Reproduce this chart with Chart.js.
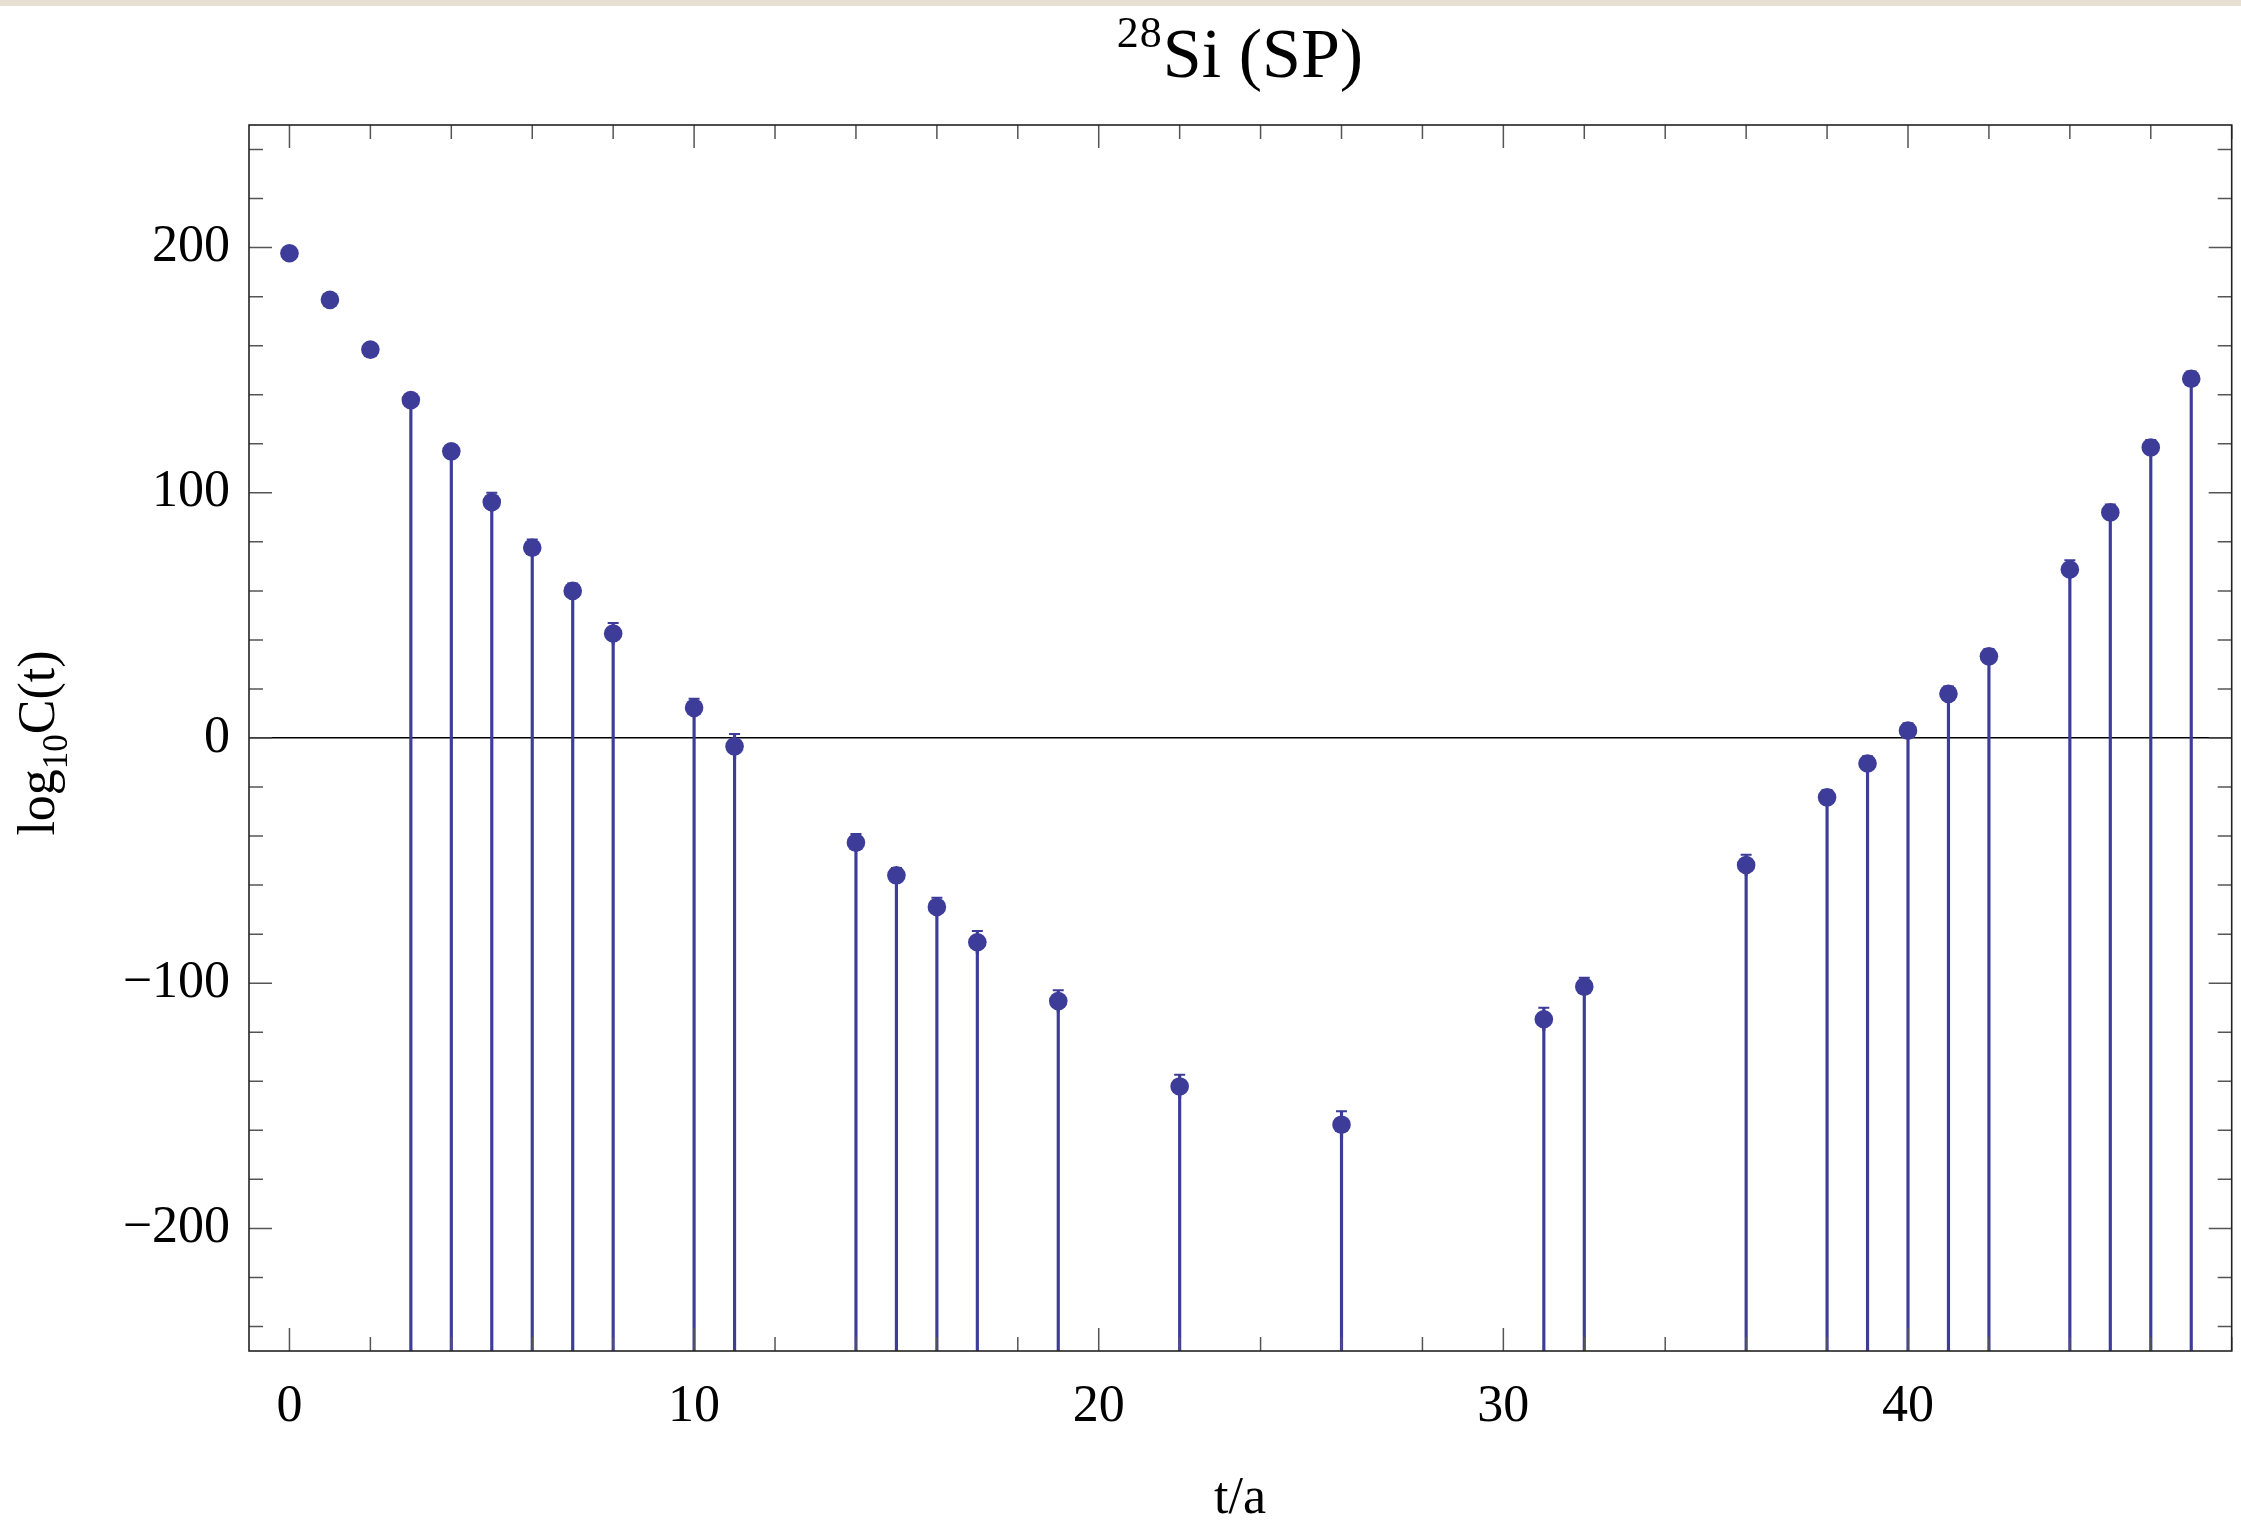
<!DOCTYPE html>
<html>
<head>
<meta charset="utf-8">
<title>28Si (SP)</title>
<script src="https://cdn.jsdelivr.net/npm/chart.js@4.4.1/dist/chart.umd.min.js"></script>
<style>
  html, body { margin: 0; padding: 0; background: #fff; overflow: hidden; }
  #wrap { position: relative; width: 2241px; height: 1525px; font-family: 'Liberation Serif', 'Times New Roman', serif; color: #000; }
  #topband { position: absolute; left: 0; top: 0; width: 100%; height: 6px; background: #e6dfd2; }
  #chart { position: absolute; left: 0; top: 0; }
  .lbl { position: absolute; white-space: nowrap; text-align: center; width: 400px; }
  #title { left: 1040px; top: 19px; font-size: 70px; line-height: 70px; }
  #title .sup { font-size: 44px; position: relative; top: -30px; letter-spacing: 1px; }
  #xlabel { left: 1040px; top: 1470px; font-size: 52px; line-height: 52px; }
  #ylabel { left: -160px; top: 714px; font-size: 52px; line-height: 52px; transform: rotate(-90deg); }
  #ylabel .sub { font-size: 35px; position: relative; top: 13px; }
</style>
</head>
<body>
<div id="wrap">
  <canvas id="chart" width="2241" height="1525"></canvas>
  <div id="topband"></div>
  <div class="lbl" id="title"><span class="sup">28</span>Si (SP)</div>
  <div class="lbl" id="ylabel">log<span class="sub">10</span>C(t)</div>
  <div class="lbl" id="xlabel">t/a</div>
</div>
<script>
// t/a values and log10 C(t), with error bar half-widths
const T = [0, 1, 2, 3, 4, 5, 6, 7, 8, 10, 11, 14, 15, 16, 17, 19, 22, 26, 31, 32, 36, 38, 39, 40, 41, 42, 44, 45, 46, 47];
const LOG_C = [197.7, 178.7, 158.4, 137.8, 116.9, 96.2, 77.6, 60.0, 42.6, 12.3, -3.4, -42.7, -56.0, -68.9, -83.3, -107.3, -142.1, -157.7, -114.7, -101.4, -51.8, -24.2, -10.4, 3.0, 18.0, 33.3, 68.7, 92.0, 118.5, 146.5];
const ERR = [2.0, 2.0, 2.0, 2.5, 2.5, 3.8, 3.4, 3.0, 4.3, 3.7, 5.0, 3.5, 3.0, 3.8, 4.6, 4.4, 4.8, 5.5, 4.7, 3.6, 4.2, 3.0, 3.0, 3.0, 3.0, 3.0, 3.8, 3.2, 3.0, 3.0];

// drop lines start from this t/a on
const STEM_START = 3;

const X_MIN = -1, X_MAX = 48;
const Y_MIN = -250, Y_MAX = 250;
const X_TICKS = [0, 2, 4, 6, 8, 10, 12, 14, 16, 18, 20, 22, 24, 26, 28, 30, 32, 34, 36, 38, 40, 42, 44, 46, 48];
const X_LABELED = [0, 10, 20, 30, 40];
const Y_TICKS = [-240, -220, -200, -180, -160, -140, -120, -100, -80, -60, -40, -20, 0, 20, 40, 60, 80, 100, 120, 140, 160, 180, 200, 220, 240];
const Y_LABELED = [-200, -100, 0, 100, 200];

const BLUE = 'rgb(61, 61, 153)';
const FONT = 'Liberation Serif';

const points = T.map((t, i) => ({ x: t, y: LOG_C[i] }));
const stems = T.map((t, i) => ({ x: t, y: [Y_MIN, LOG_C[i]] })).filter((p) => p.x >= STEM_START);
const errBars = T.map((t, i) => ({ x: t, y: [LOG_C[i] - ERR[i], LOG_C[i] + ERR[i]] }));
const caps = T.map((t, i) => ({ x: t, y: LOG_C[i] + ERR[i] }));

const fmtTick = (v) => (v < 0 ? '\u2212' + Math.abs(v) : String(v));

// Mathematica-style frame: box with inward ticks on all four sides
const frameTicks = {
  id: 'frameTicks',
  afterDraw(chart) {
    const { ctx, chartArea: a, scales: { x, y } } = chart;
    ctx.save();
    ctx.lineWidth = 1.5;
    ctx.strokeStyle = '#555';
    ctx.beginPath();
    X_TICKS.forEach((v) => {
      const px = x.getPixelForValue(v);
      const len = X_LABELED.includes(v) ? 23 : 14;
      ctx.moveTo(px, a.bottom); ctx.lineTo(px, a.bottom - len);
      ctx.moveTo(px, a.top); ctx.lineTo(px, a.top + len);
    });
    Y_TICKS.forEach((v) => {
      const py = y.getPixelForValue(v);
      const len = Y_LABELED.includes(v) ? 23 : 14;
      ctx.moveTo(a.left, py); ctx.lineTo(a.left + len, py);
      ctx.moveTo(a.right, py); ctx.lineTo(a.right - len, py);
    });
    ctx.stroke();
    ctx.lineWidth = 1.6;
    ctx.strokeStyle = '#222';
    ctx.strokeRect(a.left, a.top, a.right - a.left, a.bottom - a.top);
    ctx.restore();
  },
};

new Chart(document.getElementById('chart'), {
  type: 'bar',
  data: {
    datasets: [
      { type: 'scatter', data: points, backgroundColor: BLUE, borderWidth: 0, pointRadius: 9.3, order: 0 },
      { type: 'scatter', data: caps, pointStyle: 'line', pointRadius: 5.5, borderColor: BLUE, borderWidth: 2, order: 1 },
      { type: 'bar', data: errBars, backgroundColor: BLUE, barThickness: 2.5, grouped: false, borderWidth: 0, order: 2 },
      { type: 'bar', data: stems, backgroundColor: BLUE, barThickness: 2.5, grouped: false, borderWidth: 0, order: 3 },
    ],
  },
  options: {
    responsive: false,
    animation: false,
    devicePixelRatio: 1,
    layout: { padding: { top: 125, right: 9, left: 0, bottom: 0 } },
    plugins: { legend: { display: false }, tooltip: { enabled: false } },
    scales: {
      x: {
        type: 'linear',
        min: X_MIN,
        max: X_MAX,
        offset: false,
        afterFit: (s) => { s.height = 174; s.paddingLeft = 0; s.paddingRight = 0; },
        afterBuildTicks: (s) => { s.ticks = X_TICKS.map((v) => ({ value: v })); },
        ticks: {
          autoSkip: false,
          maxRotation: 0,
          padding: 17,
          color: '#000',
          font: { family: FONT, size: 52 },
          callback: (v) => (X_LABELED.includes(v) ? fmtTick(v) : ''),
        },
        grid: { display: false },
        border: { display: false },
      },
      y: {
        min: Y_MIN,
        max: Y_MAX,
        afterFit: (s) => { s.width = 249; s.paddingTop = 0; s.paddingBottom = 0; },
        afterBuildTicks: (s) => { s.ticks = Y_TICKS.map((v) => ({ value: v })); },
        ticks: {
          autoSkip: false,
          padding: 19,
          color: '#000',
          font: { family: FONT, size: 52 },
          callback: (v) => (Y_LABELED.includes(v) ? fmtTick(v) : ''),
        },
        grid: {
          drawTicks: false,
          lineWidth: 1.6,
          color: (c) => (c.tick && c.tick.value === 0 ? '#000' : 'rgba(0,0,0,0)'),
        },
        border: { display: false },
      },
    },
  },
  plugins: [frameTicks],
});
</script>
</body>
</html>
